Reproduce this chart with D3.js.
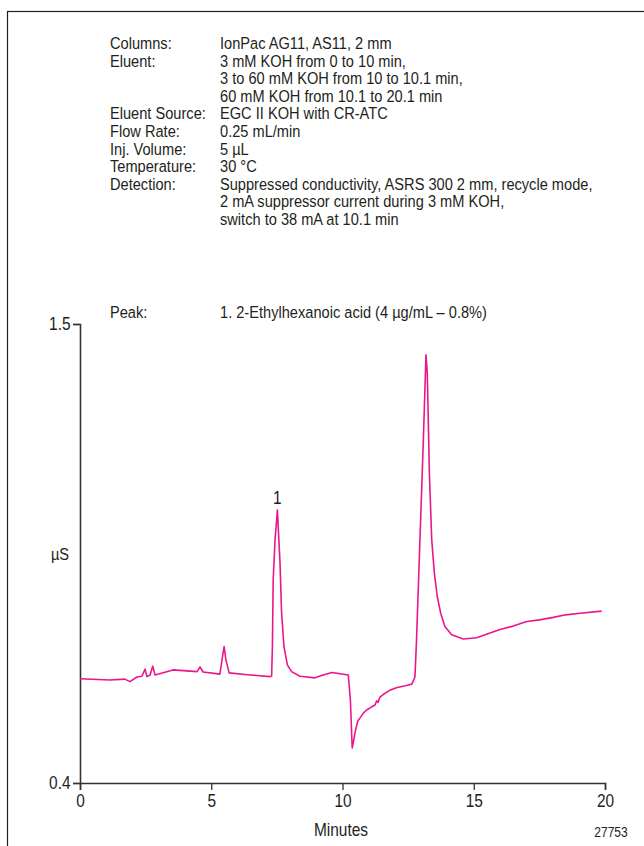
<!DOCTYPE html>
<html>
<head>
<meta charset="utf-8">
<script src="https://cdn.jsdelivr.net/npm/d3@7"></script>
<style>
  body { margin: 0; background: #fff; }
  text { font-family: "Liberation Sans", Arial, sans-serif; fill: #231f20; }
</style>
</head>
<body>
<div id="chart"></div>
<script>
// conditions block
var labels = ['Columns:', 'Eluent:', '', '', 'Eluent Source:', 'Flow Rate:', 'Inj. Volume:', 'Temperature:', 'Detection:', '', ''];
var values = [
  'IonPac AG11, AS11, 2 mm',
  '3 mM KOH from 0 to 10 min,',
  '3 to 60 mM KOH from 10 to 10.1 min,',
  '60 mM KOH from 10.1 to 20.1 min',
  'EGC II KOH with CR-ATC',
  '0.25 mL/min',
  '5 \u00b5L',
  '30 \u00b0C',
  'Suppressed conductivity, ASRS 300 2 mm, recycle mode,',
  '2 mA suppressor current during 3 mM KOH,',
  'switch to 38 mA at 10.1 min'
];
var peakLabel = 'Peak:';
var peakText = '1. 2-Ethylhexanoic acid (4 \u00b5g/mL \u2013 0.8%)';

var xTicks = [0, 5, 10, 15, 20];
var yTicks = [0.4, 1.5];

// chromatogram, minutes / µS
var minutes = [0.00, 1.14, 1.71, 1.90, 2.17, 2.36, 2.48, 2.55, 2.67, 2.77, 2.86, 3.54, 4.46, 4.57, 4.69,
  5.33, 5.41, 5.49, 5.56, 5.68, 6.48, 7.24, 7.30, 7.33, 7.36, 7.43, 7.52, 7.62, 7.68, 7.77, 7.90, 8.06, 8.38,
  8.95, 9.26, 9.60, 10.22, 10.30, 10.37, 10.42, 10.48, 10.58, 10.67, 10.80, 10.92, 11.10, 11.24, 11.30, 11.35, 11.43, 11.55, 11.80, 12.08,
  12.40, 12.64, 12.76, 12.82, 12.95, 13.08, 13.18, 13.23, 13.31, 13.40, 13.50, 13.61, 13.74, 13.90, 14.16, 14.60, 15.11,
  16.00, 16.50, 17.02, 17.50, 18.03, 18.50, 19.05, 19.87];
var signal = [0.650, 0.647, 0.649, 0.643, 0.654, 0.656, 0.673, 0.655, 0.659, 0.680, 0.659, 0.671, 0.667, 0.678, 0.666,
  0.661, 0.695, 0.727, 0.695, 0.664, 0.659, 0.655, 0.656, 0.727, 0.887, 0.982, 1.054, 0.927, 0.807, 0.727, 0.683, 0.667, 0.656,
  0.652, 0.659, 0.665, 0.659, 0.599, 0.484, 0.500, 0.522, 0.548, 0.556, 0.568, 0.575, 0.582, 0.587, 0.597, 0.593, 0.606, 0.612, 0.622, 0.629,
  0.633, 0.637, 0.654, 0.743, 0.982, 1.222, 1.426, 1.382, 1.142, 0.982, 0.903, 0.847, 0.807, 0.775, 0.755, 0.745, 0.748,
  0.768, 0.776, 0.787, 0.791, 0.797, 0.803, 0.807, 0.812];

var peakNumber = '1';
var peakAt = 7.52;

var width = 644, height = 846;
var margin = { left: 80, right: 39, top: 324, bottom: 63 };
var squeeze = 0.86; // no condensed face installed, so narrow the glyphs by hand

var svg = d3.select('#chart').append('svg')
  .attr('width', width)
  .attr('height', height);

function narrowText (parent, x, y, str, size, anchor) {
  return parent.append('text')
    .attr('transform', 'translate(' + x + ',' + y + ') scale(' + squeeze + ',1)')
    .attr('font-size', size)
    .attr('text-anchor', anchor || 'start')
    .text(str);
}

// outer frame, runs off the page at right and bottom
svg.append('rect')
  .attr('x', 7.5)
  .attr('y', 11.5)
  .attr('width', 700)
  .attr('height', 900)
  .attr('fill', 'none')
  .attr('stroke', '#231f20')
  .attr('stroke-width', 1.2);

var head = svg.append('g');

labels.forEach(function(d, i) {
  if (d) { narrowText(head, 110, 49 + i * 17.6, d, 17); }
});
values.forEach(function(d, i) {
  narrowText(head, 220, 49 + i * 17.6, d, 17);
});
narrowText(head, 110, 318, peakLabel, 17);
narrowText(head, 220, 318, peakText, 17);

var x = d3.scaleLinear()
  .domain([0, 20])
  .range([margin.left, width - margin.right]);

var y = d3.scaleLinear()
  .domain([0.4, 1.5])
  .range([height - margin.bottom, margin.top]);

var xAxis = svg.append('g')
  .attr('transform', 'translate(0,' + y(0.4) + ')')
  .call(d3.axisBottom(x).tickValues(xTicks).tickSize(7).tickPadding(4).tickFormat(d3.format('d')));

var yAxis = svg.append('g')
  .attr('transform', 'translate(' + x(0) + ',0)')
  .call(d3.axisLeft(y).tickValues(yTicks).tickSize(7).tickPadding(2).tickFormat(d3.format('.1f')));

[xAxis, yAxis].forEach(function(ax) {
  ax.select('.domain').attr('stroke', '#333').attr('stroke-width', 1.6);
  ax.selectAll('.tick line').attr('stroke', '#333').attr('stroke-width', 1.3);
  ax.selectAll('.tick text')
    .attr('fill', '#231f20')
    .attr('font-size', 18)
    .attr('font-family', '"Liberation Sans", Arial, sans-serif')
    .attr('transform', 'scale(' + squeeze + ',1)');
});
yAxis.selectAll('.tick text').attr('x', -11);

var line = d3.line()
  .x(function(d) { return x(d[0]); })
  .y(function(d) { return y(d[1]); });

svg.append('path')
  .datum(d3.zip(minutes, signal))
  .attr('d', line)
  .attr('fill', 'none')
  .attr('stroke', '#ec168c')
  .attr('stroke-width', 1.6)
  .attr('stroke-linejoin', 'round');

narrowText(svg, x(peakAt), y(1.054) - 6, peakNumber, 18, 'middle');
narrowText(svg, 60, 560, '\u00b5S', 17, 'middle');
narrowText(svg, 341, 836, 'Minutes', 18, 'middle');
narrowText(svg, 611, 837, '27753', 14, 'middle');
</script>
</body>
</html>
